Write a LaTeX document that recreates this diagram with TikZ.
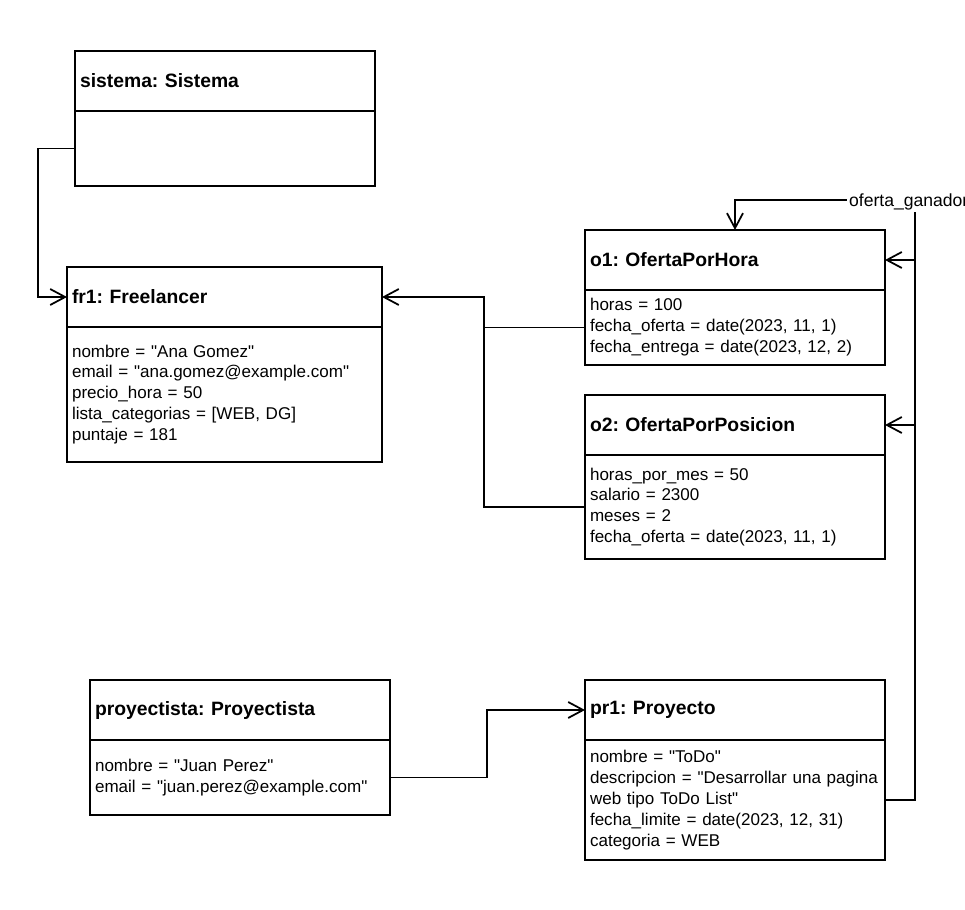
\documentclass[tikz,border=0pt]{standalone}
\usepackage{fontspec}
\setmainfont{Liberation Sans}[Ligatures=TeXOff]
\usetikzlibrary{arrows.meta, positioning}
\frenchspacing

\tikzset{
  objtitle/.style={draw, line width=1pt, outer sep=0pt, minimum height=1.2cm, inner xsep=0.1cm, align=left, font=\fontsize{11}{12}\selectfont\bfseries},
  objbody/.style={draw, line width=1pt, outer sep=0pt, inner xsep=0.1cm, inner ysep=0pt, align=left, font=\fontsize{9.7}{11.9}\selectfont},
  assoc/.style={line width=1pt, -{Straight Barb[length=0.3cm, width=0.32cm]}},
}

\begin{document}
\begin{tikzpicture}[x=0.02cm, y=-0.02cm]
  \fill[white] (0,0) rectangle (965,910);
  \clip (0,0) rectangle (965,910);

  % sistema object
  \node[objtitle, text width=5.8cm] (sis) at (225,81) {sistema: Sistema};
  \node[objbody, text width=5.8cm, minimum height=1.5cm, below=0pt of sis] (sisb) {};

  % freelancer object
  \node[objtitle, text width=6.1cm] (fr1) at (224.5,297) {fr1: Freelancer};
  \node[objbody, text width=6.1cm, minimum height=2.7cm, below=0pt of fr1] (fr1b) {
    nombre = "Ana Gomez"\\
    email = "ana.gomez@example.com"\\
    precio\_hora = 50\\
    lista\_categorias = [WEB, DG]\\
    puntaje = 181
  };

  % ofertas
  \node[objtitle, text width=5.8cm] (o1) at (735,260) {o1: OfertaPorHora};
  \node[objbody, text width=5.8cm, minimum height=1.5cm, below=0pt of o1] (o1b) {
    horas = 100\\
    fecha\_oferta = date(2023, 11, 1)\\
    fecha\_entrega = date(2023, 12, 2)
  };

  \node[objtitle, text width=5.8cm] (o2) at (735,425) {o2: OfertaPorPosicion};
  \node[objbody, text width=5.8cm, minimum height=2.08cm, below=0pt of o2] (o2b) {
    horas\_por\_mes = 50\\
    salario = 2300\\
    meses = 2\\
    fecha\_oferta = date(2023, 11, 1)
  };

  % proyectista and proyecto
  \node[objtitle, text width=5.8cm] (proy) at (240,710) {proyectista: Proyectista};
  \node[objbody, text width=5.8cm, minimum height=1.5cm, below=0pt of proy] (proyb) {
    nombre = "Juan Perez"\\
    email = "juan.perez@example.com"
  };

  \node[objtitle, text width=5.8cm] (pr1) at (735,710) {pr1: Proyecto};
  \node[objbody, text width=5.8cm, minimum height=2.4cm, below=0pt of pr1] (pr1b) {
    nombre = "ToDo"\\
    descripcion = "Desarrollar una pagina\\
    web tipo ToDo List"\\
    fecha\_limite = date(2023, 12, 31)\\
    categoria = WEB
  };

  % links
  \draw[assoc] (sisb.west) -- ++(-37,0) |- (fr1.west);

  \coordinate (j1) at (484,297);
  \draw[assoc] (o1b.west) -| (j1) -- (fr1.east);
  \draw[line width=1pt] (o2b.west) -| (j1);

  \draw[assoc] (proyb.east) -- ++(97,0) |- (pr1.west);

  \coordinate (g) at (915,200);
  \draw[assoc] (pr1b.east) -| (g) -| (o1.north);
  \draw[assoc] (g |- o1.east) -- (o1.east);
  \draw[assoc] (g |- o2.east) -- (o2.east);
  \node[fill=white, inner sep=1pt, anchor=west, font=\fontsize{10}{12}\selectfont] (lbl) at (847,202) {oferta\_ganador};
\end{tikzpicture}
\end{document}
